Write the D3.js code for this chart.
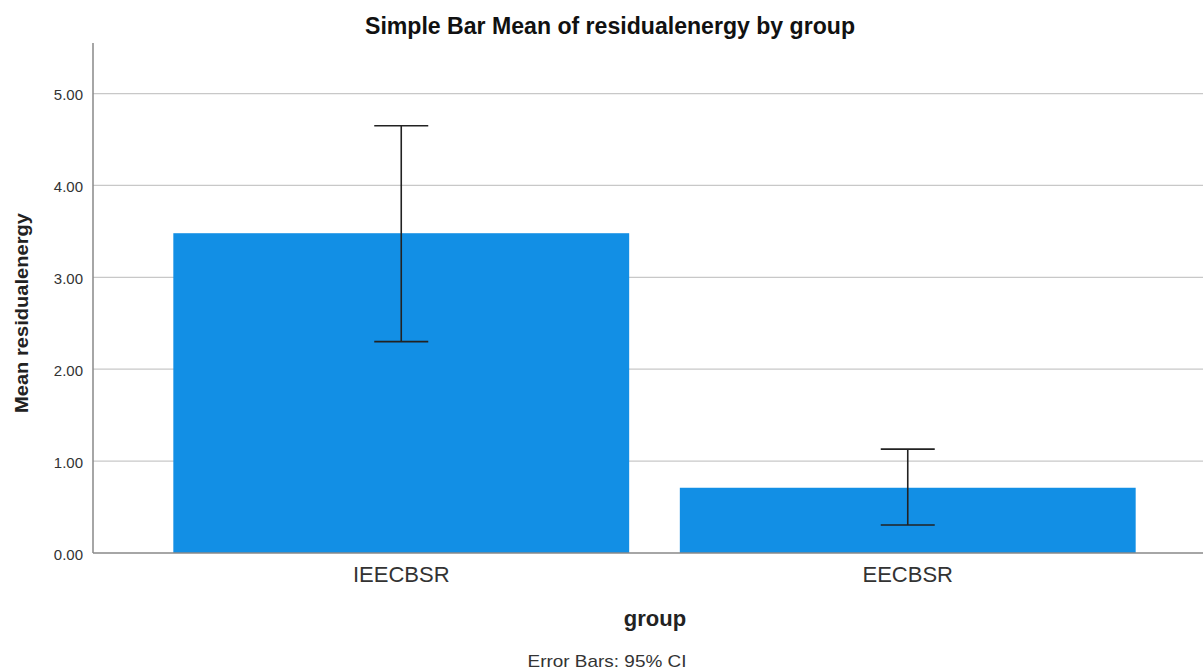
<!DOCTYPE html>
<html lang="en">
<head>
  <meta charset="UTF-8">
  <title>Simple Bar Mean of residualenergy by group</title>
  <script src="https://d3js.org/d3.v7.min.js"></script>
  <style>
    body { margin: 0; background: #fff; font-family: "Liberation Sans", Arial, sans-serif; }
    svg { display: block; }
  </style>
</head>
<body>
  <svg id="chart"></svg>
  <script>
    const groups = ["IEECBSR", "EECBSR"];
    const means = [3.48, 0.71];
    const ciLow = [2.30, 0.305];
    const ciHigh = [4.65, 1.13];
    const yTicks = [0, 1, 2, 3, 4, 5];

    const width = 1203, height = 671;
    const plotLeft = 93, plotRight = 1203, plotTop = 43, plotBottom = 553;

    const svg = d3.select("#chart").attr("width", width).attr("height", height);

    const y = d3.scaleLinear().domain([0, 5.55]).range([plotBottom, plotTop]);
    const x = d3.scaleBand().domain(groups).range([148, 1161])
      .paddingInner(0.1).paddingOuter(0.05);

    // gridlines
    svg.append("g")
      .selectAll("line")
      .data(yTicks.filter(d => d > 0))
      .enter().append("line")
      .attr("x1", plotLeft).attr("x2", plotRight)
      .attr("y1", d => y(d)).attr("y2", d => y(d))
      .attr("stroke", "#c8c8c8").attr("stroke-width", 1.2);

    // y axis labels
    const yAxis = d3.axisLeft(y).tickValues(yTicks).tickFormat(d3.format(".2f")).tickSize(0).tickPadding(10);
    const gy = svg.append("g").attr("transform", `translate(${plotLeft},0)`).call(yAxis);
    gy.select(".domain").remove();
    gy.selectAll("text").attr("font-size", 15).attr("fill", "#333")
      .attr("font-family", "Liberation Sans, Arial, sans-serif").attr("dy", "0.4em");

    // bars
    svg.append("g")
      .selectAll("rect")
      .data(groups)
      .enter().append("rect")
      .attr("x", d => x(d))
      .attr("width", x.bandwidth())
      .attr("y", (d, i) => y(means[i]))
      .attr("height", (d, i) => y(0) - y(means[i]))
      .attr("fill", "#128fe5");

    // error bars
    const capW = 27;
    const eb = svg.append("g").attr("stroke", "#222").attr("stroke-width", 1.6);
    groups.forEach((g, i) => {
      const cx = x(g) + x.bandwidth() / 2;
      eb.append("line").attr("x1", cx).attr("x2", cx).attr("y1", y(ciLow[i])).attr("y2", y(ciHigh[i]));
      eb.append("line").attr("x1", cx - capW).attr("x2", cx + capW).attr("y1", y(ciHigh[i])).attr("y2", y(ciHigh[i]));
      eb.append("line").attr("x1", cx - capW).attr("x2", cx + capW).attr("y1", y(ciLow[i])).attr("y2", y(ciLow[i]));
    });

    // axis lines
    svg.append("line").attr("x1", plotLeft).attr("x2", plotLeft).attr("y1", plotTop).attr("y2", plotBottom)
      .attr("stroke", "#888").attr("stroke-width", 1.5);
    svg.append("line").attr("x1", plotLeft).attr("x2", plotRight).attr("y1", plotBottom).attr("y2", plotBottom)
      .attr("stroke", "#888").attr("stroke-width", 1.5);

    // x axis labels
    const xAxis = d3.axisBottom(x).tickSize(0).tickPadding(13);
    const gx = svg.append("g").attr("transform", `translate(0,${plotBottom})`).call(xAxis);
    gx.select(".domain").remove();
    gx.selectAll("text").attr("font-size", 22).attr("fill", "#333")
      .attr("font-family", "Liberation Sans, Arial, sans-serif");

    // titles
    svg.append("text").attr("x", 610).attr("y", 34).attr("text-anchor", "middle")
      .attr("font-size", 23).attr("font-weight", "bold").attr("fill", "#111")
      .attr("textLength", 490).attr("lengthAdjust", "spacingAndGlyphs")
      .text("Simple Bar Mean of residualenergy by group");

    svg.append("text").attr("x", 655).attr("y", 626).attr("text-anchor", "middle")
      .attr("font-size", 22).attr("font-weight", "bold").attr("fill", "#222")
      .text("group");

    svg.append("text").attr("x", 607).attr("y", 667).attr("text-anchor", "middle")
      .attr("font-size", 17).attr("fill", "#333")
      .attr("textLength", 159).attr("lengthAdjust", "spacingAndGlyphs")
      .text("Error Bars: 95% CI");

    svg.append("text").attr("transform", "translate(28,313) rotate(-90)").attr("text-anchor", "middle")
      .attr("font-size", 19).attr("font-weight", "bold").attr("fill", "#222")
      .attr("textLength", 200).attr("lengthAdjust", "spacingAndGlyphs")
      .text("Mean residualenergy");
  </script>
</body>
</html>
